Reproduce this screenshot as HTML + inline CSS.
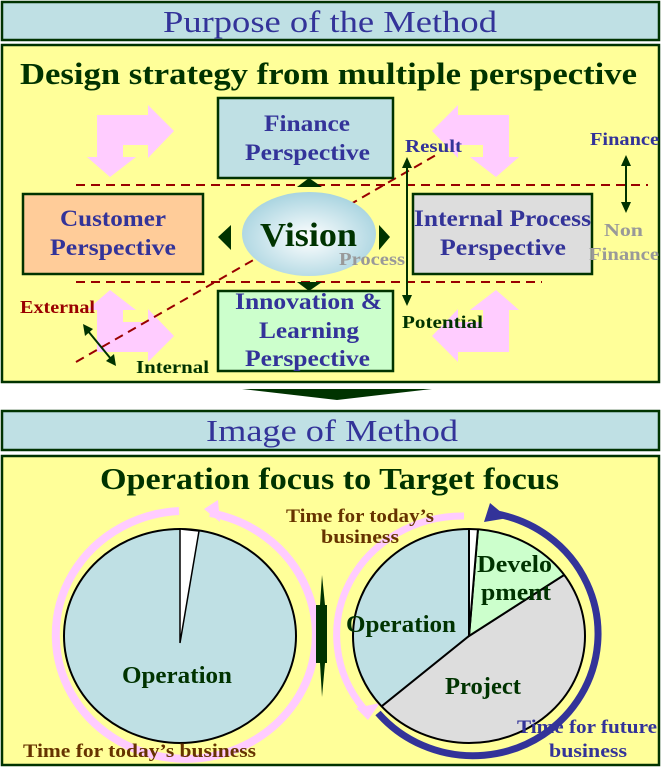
<!DOCTYPE html>
<html><head><meta charset="utf-8"><style>
html,body{margin:0;padding:0;background:#fff;}
svg{display:block;}
text{font-family:"Liberation Serif",serif;}
</style></head><body>
<svg width="662" height="767" viewBox="0 0 662 767" xmlns="http://www.w3.org/2000/svg">
<defs>
<radialGradient id="vg" cx="50%" cy="55%" r="55%">
<stop offset="0" stop-color="#ffffff"/><stop offset="1" stop-color="#a9d4e0"/>
</radialGradient>
<clipPath id="rp"><ellipse cx="469" cy="636" rx="116" ry="107"/></clipPath>
</defs>
<rect x="2" y="2" width="657" height="38" fill="#bfe0e4" stroke="#003300" stroke-width="2.5"/>
<text x="163" y="32" textLength="334" lengthAdjust="spacingAndGlyphs" font-size="31" fill="#333399">Purpose of the Method</text>
<rect x="2" y="45" width="657" height="337" fill="#ffff99" stroke="#003300" stroke-width="2.5"/>
<text x="20" y="84" textLength="617" lengthAdjust="spacingAndGlyphs" font-size="31" font-weight="bold" fill="#003300">Design strategy from multiple perspective</text>
<g fill="#ffccff">
<path id="pa" d="M97,115 L148,115 L148,105 L174,131 L148,158 L148,145 L123,145 L123,157 L136,157 L110,177 L87,157 L97,157 Z"/>
<use href="#pa" transform="translate(606,0) scale(-1,1)"/>
<use href="#pa" transform="translate(0,467) scale(1,-1)"/>
<use href="#pa" transform="translate(606,467) scale(-1,-1)"/>
</g>
<g stroke="#990000" stroke-width="2" stroke-dasharray="9,6" fill="none">
<line x1="76" y1="185" x2="648" y2="185"/>
<line x1="76" y1="282" x2="542" y2="282"/>
<line x1="76" y1="362" x2="436" y2="155"/>
</g>
<g stroke="#003300" stroke-width="2.5">
<rect x="218" y="98" width="175" height="80" fill="#bfe0e4"/>
<rect x="23" y="194" width="180" height="80" fill="#ffcc99"/>
<rect x="413" y="194" width="179" height="80" fill="#dddddd"/>
<rect x="218" y="291" width="175" height="80" fill="#ccffcc"/>
</g>
<g font-size="23" font-weight="bold" fill="#333399">
<text x="264" y="131" textLength="86" lengthAdjust="spacingAndGlyphs">Finance</text>
<text x="245" y="160" textLength="125" lengthAdjust="spacingAndGlyphs">Perspective</text>
<text x="60" y="226" textLength="106" lengthAdjust="spacingAndGlyphs">Customer</text>
<text x="50" y="255" textLength="126" lengthAdjust="spacingAndGlyphs">Perspective</text>
<text x="414" y="226" textLength="177" lengthAdjust="spacingAndGlyphs">Internal Process</text>
<text x="440" y="255" textLength="126" lengthAdjust="spacingAndGlyphs">Perspective</text>
<text x="235" y="309" textLength="147" lengthAdjust="spacingAndGlyphs">Innovation &amp;</text>
<text x="259" y="338" textLength="100" lengthAdjust="spacingAndGlyphs">Learning</text>
<text x="245" y="366" textLength="125" lengthAdjust="spacingAndGlyphs">Perspective</text>
</g>
<ellipse cx="309" cy="234" rx="67" ry="42" fill="url(#vg)"/>
<text x="260" y="246" textLength="97" lengthAdjust="spacingAndGlyphs" font-size="34" font-weight="bold" fill="#003300">Vision</text>
<g fill="#003300">
<polygon points="297,187 322,187 309,178"/>
<polygon points="297,282 322,282 309,291"/>
<polygon points="231,225 231,250 218,237"/>
<polygon points="379,225 379,250 390,237"/>
<polygon points="242,389 432,389 337,400"/>
</g>
<g stroke="#003300" stroke-width="2" fill="#003300">
<line x1="407" y1="166" x2="407" y2="297"/>
<polygon points="407,157 402,168 412,168" stroke="none"/>
<polygon points="407,306 402,295 412,295" stroke="none"/>
<line x1="626" y1="163" x2="626" y2="205"/>
<polygon points="626,155 621,166 631,166" stroke="none"/>
<polygon points="626,213 621,202 631,202" stroke="none"/>
<line x1="88" y1="331" x2="111" y2="359"/>
<polygon points="83,324 85,336 93,329" stroke="none"/>
<polygon points="116,366 106,361 114,354" stroke="none"/>
</g>
<g font-size="18" font-weight="bold">
<text x="405" y="152" textLength="57" lengthAdjust="spacingAndGlyphs" fill="#333399">Result</text>
<text x="590" y="145" textLength="69" lengthAdjust="spacingAndGlyphs" fill="#333399">Finance</text>
<text x="604" y="236" textLength="39" lengthAdjust="spacingAndGlyphs" fill="#999999">Non</text>
<text x="589" y="260" textLength="70" lengthAdjust="spacingAndGlyphs" fill="#999999">Finance</text>
<text x="339" y="265" textLength="66" lengthAdjust="spacingAndGlyphs" fill="#999999">Process</text>
<text x="20" y="313" textLength="75" lengthAdjust="spacingAndGlyphs" fill="#990000">External</text>
<text x="136" y="373" textLength="73" lengthAdjust="spacingAndGlyphs" fill="#003300">Internal</text>
<text x="402" y="328" textLength="81" lengthAdjust="spacingAndGlyphs" fill="#003300">Potential</text>
</g>
<rect x="2" y="411" width="657" height="39" fill="#bfe0e4" stroke="#003300" stroke-width="2.5"/>
<text x="206" y="441" textLength="252" lengthAdjust="spacingAndGlyphs" font-size="31" fill="#333399">Image of Method</text>
<rect x="2" y="456" width="657" height="309" fill="#ffff99" stroke="#003300" stroke-width="2.5"/>
<text x="100" y="489" textLength="459" lengthAdjust="spacingAndGlyphs" font-size="31" font-weight="bold" fill="#003300">Operation focus to Target focus</text>
<path d="M179,511 A130,124 0 1 0 210,513" fill="none" stroke="#ffccff" stroke-width="8"/>
<polygon points="204,509 218,500 220,522" fill="#ffccff"/>
<ellipse cx="180" cy="636" rx="116" ry="107" fill="#bfe0e4" stroke="#000" stroke-width="2"/>
<path d="M180,643 L180,529 L199,531 Z" fill="#fff" stroke="#000" stroke-width="1.5"/>
<text x="122" y="683" textLength="110" lengthAdjust="spacingAndGlyphs" font-size="24" font-weight="bold" fill="#003300">Operation</text>
<polygon points="322,575 325,605 327,605 327,663 325,663 322,697 320,663 316,663 316,605 320,605" fill="#003300"/>
<path d="M464,516 A126,119 0 0 0 364,709" fill="none" stroke="#ffccff" stroke-width="7"/>
<polygon points="356,708 380,703 368,720" fill="#ffccff"/>
<path d="M497,514 A125,122 0 1 1 378,713" fill="none" stroke="#333399" stroke-width="7"/>
<polygon points="490,503 508,518 484,522" fill="#333399"/>
<g clip-path="url(#rp)" stroke="#000" stroke-width="2">
<rect x="340" y="520" width="260" height="230" fill="#bfe0e4" stroke="none"/>
<polygon points="469,636 659,514 700,800 295,776" fill="#dddddd"/>
<polygon points="469,636 484.6,450 640,450 659,514" fill="#ccffcc"/>
<polygon points="469,636 469,450 484.6,450" fill="#fff"/>
</g>
<ellipse cx="469" cy="636" rx="116" ry="107" fill="none" stroke="#000" stroke-width="2"/>
<g font-size="24" font-weight="bold" fill="#003300">
<text x="477" y="572" textLength="75" lengthAdjust="spacingAndGlyphs">Develo</text>
<text x="481" y="600" textLength="70" lengthAdjust="spacingAndGlyphs">pment</text>
<text x="346" y="632" textLength="110" lengthAdjust="spacingAndGlyphs">Operation</text>
<text x="445" y="694" textLength="76" lengthAdjust="spacingAndGlyphs">Project</text>
</g>
<g font-size="19" font-weight="bold">
<text x="286" y="522" textLength="148" lengthAdjust="spacingAndGlyphs" fill="#663300">Time for today’s</text>
<text x="321" y="543" textLength="78" lengthAdjust="spacingAndGlyphs" fill="#663300">business</text>
<text x="23" y="757" textLength="233" lengthAdjust="spacingAndGlyphs" fill="#663300">Time for today’s business</text>
<text x="517" y="733" textLength="140" lengthAdjust="spacingAndGlyphs" fill="#333399">Time for future</text>
<text x="549" y="757" textLength="78" lengthAdjust="spacingAndGlyphs" fill="#333399">business</text>
</g>
</svg>
</body></html>
